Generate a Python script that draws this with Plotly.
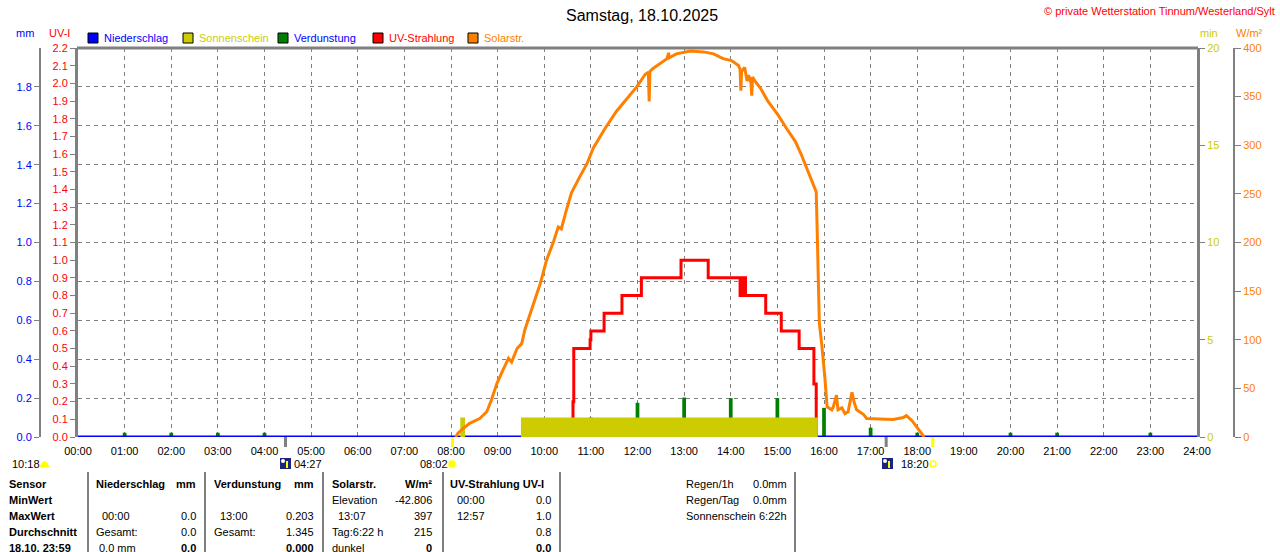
import plotly.graph_objects as go

# --- data (times as HH:MM) ---
hour_labels = ["%02d:00" % h for h in range(25)]

solar_times = ["08:06", "08:09", "08:16", "08:24", "08:37", "08:46", "08:52", "08:59", "09:07", "09:14",
               "09:18", "09:25", "09:31", "09:35", "09:42", "09:48", "09:55", "10:03", "10:12", "10:18",
               "10:22", "10:28", "10:35", "10:46", "10:55", "11:03", "11:18", "11:33", "11:46", "11:59",
               "12:10", "12:14", "12:15", "12:16", "12:20", "12:38", "12:40", "12:41", "12:50", "12:55",
               "13:08", "13:25", "13:38", "13:50", "14:01", "14:10", "14:12", "14:13", "14:14", "14:18",
               "14:19", "14:21", "14:23", "14:26", "14:27", "14:28", "14:33", "14:38", "14:48", "15:01",
               "15:12", "15:23", "15:31", "15:38", "15:46", "15:50", "15:51", "15:52", "15:53", "15:54",
               "15:57", "15:59", "16:01", "16:04", "16:06", "16:10", "16:12", "16:16", "16:18", "16:23",
               "16:27", "16:31", "16:36", "16:39", "16:42", "16:51", "16:55", "17:16", "17:29", "17:42",
               "17:46", "17:53", "17:59", "18:06", "18:09"]
solar_values = [0, 4, 9, 14, 19, 26, 38, 55, 69, 81,
                77, 91, 96, 110, 127, 141, 158, 182, 201, 216,
                214, 232, 251, 268, 281, 297, 317, 335, 347, 360,
                373, 375, 345, 376, 379, 389, 395, 390, 394, 395,
                397, 396, 394, 389, 387, 382, 378, 356, 376, 380,
                376, 366, 372, 364, 351, 370, 364, 359, 345, 331,
                317, 304, 290, 276, 261, 252, 220, 170, 141, 117,
                96, 80, 62, 31, 30, 28, 31, 43, 28, 30,
                24, 26, 46, 35, 28, 23, 19, 18, 18, 20,
                22, 17, 11, 4, 0]

uv_times = ["10:36", "10:37", "10:38", "10:59", "11:00", "11:17", "11:40", "12:05", "12:56", "13:31",
            "14:12", "14:14", "14:16", "14:17", "14:19", "14:45", "15:05", "15:28", "15:47", "15:50"]
uv_values = [0.0, 0.2, 0.5, 0.55, 0.6, 0.7, 0.8, 0.9, 1.0, 0.9,
             0.8, 0.9, 0.8, 0.9, 0.8, 0.7, 0.6, 0.5, 0.3, 0.0]

sun_times = ["00:00", "08:12", "08:18", "09:30", "15:52"]
sun_minutes = [0, 1, 0, 1, 0]

evap_times = ["01:00", "02:00", "03:00", "04:00", "10:00", "11:00", "12:00", "13:00", "14:00",
              "15:00", "16:00", "17:00", "18:00", "20:00", "21:00", "23:00"]
evap_mm = [0.022, 0.022, 0.022, 0.022, 0.05, 0.10, 0.176, 0.203, 0.2,
           0.2, 0.15, 0.048, 0.022, 0.022, 0.022, 0.022]

rain_times = hour_labels
rain_mm = [0.0] * 25

sunrise, sunset = "08:02", "18:20"
moonrise, moonset = "04:27", "17:20"

uv_ticks = [round(i * 0.1, 1) for i in range(23)]
mm_ticks = [round(i * 0.2, 1) for i in range(10)]

legend_items = [("Niederschlag", "#0000ff", "#0000ff"),
                ("Sonnenschein", "#cccc00", "#cccc00"),
                ("Verdunstung", "#008000", "#0000ff"),
                ("UV-Strahlung", "#ff0000", "#ff0000"),
                ("Solarstr.", "#ff8000", "#ff8000")]


def hrs(s):
    h, m = s.split(":")
    return int(h) + int(m) / 60


W, H = 1280, 552
FONT = "Liberation Sans, Arial, sans-serif"
GREY = "#808080"


def px(x):
    return x / W


def py(y):
    return 1 - y / H


fig = go.Figure()

fig.add_trace(go.Scatter(x=[hrs(t) for t in sun_times], y=sun_minutes, yaxis="y3",
                         mode="lines", line=dict(shape="hv", width=0, color="#cccc00"),
                         fill="tozeroy", fillcolor="#cccc00", name="Sonnenschein"))
fig.add_trace(go.Bar(x=[hrs(t) for t in evap_times], y=evap_mm, yaxis="y2", width=0.08,
                     marker=dict(color="#008000", line=dict(width=0)), name="Verdunstung"))
fig.add_trace(go.Scatter(x=[hrs(t) for t in uv_times], y=uv_values, yaxis="y",
                         mode="lines", line=dict(shape="hv", width=3, color="#ff0000"), name="UV-Strahlung"))
fig.add_trace(go.Scatter(x=[hrs(t) for t in solar_times], y=solar_values, yaxis="y4",
                         mode="lines", line=dict(width=3, color="#ff8000"), name="Solarstr."))
fig.add_trace(go.Scatter(x=[hrs(t) for t in rain_times], y=rain_mm, yaxis="y2",
                         mode="lines", line=dict(width=3, color="#0000ff"), name="Niederschlag"))

tickfont = dict(family=FONT, size=11)

fig.update_layout(
    width=W, height=H, margin=dict(l=0, r=0, t=0, b=0, autoexpand=False),
    paper_bgcolor="white", plot_bgcolor="white", showlegend=False,
    font=dict(family=FONT, size=11, color="black"),
    xaxis=dict(domain=[px(78), px(1197)], range=[0, 24], tickvals=list(range(25)), ticktext=hour_labels,
               showgrid=True, gridcolor=GREY, griddash="4px,4px", gridwidth=1, zeroline=False,
               showline=False, ticks="", tickfont=dict(tickfont, color="black"), ticklabelstandoff=6,
               automargin=False),
    yaxis=dict(domain=[py(437), py(48)], range=[0, 2.2], tickvals=uv_ticks,
               ticktext=["%.1f" % v for v in uv_ticks], tickfont=dict(tickfont, color="#ff0000"),
               showline=True, linecolor=GREY, linewidth=3, ticks="outside", ticklen=5, tickcolor=GREY,
               showgrid=False, zeroline=False, automargin=False),
    yaxis2=dict(overlaying="y", anchor="free", position=px(40), side="left", range=[0, 2.0],
                tickvals=mm_ticks, ticktext=["%.1f" % v for v in mm_ticks],
                tickfont=dict(tickfont, color="#0000ff"), showline=True, linecolor=GREY, linewidth=2,
                ticks="outside", ticklen=5, tickcolor=GREY,
                showgrid=True, gridcolor=GREY, griddash="4px,4px", gridwidth=1, zeroline=False,
                automargin=False),
    yaxis3=dict(overlaying="y", anchor="x", side="right", range=[0, 20], tickvals=[0, 5, 10, 15, 20],
                tickfont=dict(tickfont, color="#cccc00"), showline=True, linecolor=GREY, linewidth=3,
                ticks="outside", ticklen=5, tickcolor=GREY, showgrid=False, zeroline=False,
                automargin=False),
    yaxis4=dict(overlaying="y", anchor="free", position=px(1234), side="right", range=[0, 400], dtick=50,
                tickfont=dict(tickfont, color="#ff8000"), showline=True, linecolor=GREY, linewidth=2,
                ticks="outside", ticklen=6, tickcolor=GREY, showgrid=False, zeroline=False,
                automargin=False),
)

shapes = []
annotations = []


def text(x, y, s, color="black", size=11, anchor="left", bold=False):
    annotations.append(dict(x=px(x), y=py(y), xref="paper", yref="paper", text="<b>%s</b>" % s if bold else s,
                            showarrow=False, xanchor=anchor, yanchor="middle",
                            font=dict(family=FONT, size=size, color=color)))


# plot frame top border
shapes.append(dict(type="line", xref="paper", yref="paper", x0=px(77), x1=px(1198), y0=py(48), y1=py(48),
                   line=dict(color=GREY, width=3)))

# titles
text(642, 15, "Samstag, 18.10.2025", size=16, anchor="center")
text(1277, 11, "\u00a9 private Wetterstation Tinnum/Westerland/Sylt", color="#ff0000", size=11, anchor="right")
text(14, 33, "mm", color="#0000ff")
text(47, 33, "UV-I", color="#ff0000")
text(1198, 33, "min", color="#cccc00")
text(1234, 33, "W/m\u00b2", color="#ff8000")

# legend boxes
lx = 88
for label, box, col in legend_items:
    shapes.append(dict(type="rect", xref="paper", yref="paper", x0=px(lx), x1=px(lx + 10), y0=py(43), y1=py(33),
                       fillcolor=box, line=dict(color="black", width=1)))
    text(lx + 14, 38, label, color=col)
    lx += 95

# sun / moon markers below the axis
for t, col in [(sunrise, "#ffff00"), (sunset, "#ffff00"), (moonrise, GREY), (moonset, GREY)]:
    shapes.append(dict(type="line", xref="x", yref="paper", x0=hrs(t), x1=hrs(t), y0=py(437), y1=py(447),
                       line=dict(color=col, width=3)))

text(10, 464, "10:18")
shapes.append(dict(type="path", xref="paper", yref="paper",
                   path="M %f %f Q %f %f %f %f Z" % (px(40), py(467), px(44.5), py(456), px(49), py(467)),
                   fillcolor="#ffff00", line=dict(color="#ffff00", width=1)))
for x0 in (280, 882):
    shapes.append(dict(type="rect", xref="paper", yref="paper", x0=px(x0), x1=px(x0 + 11), y0=py(469), y1=py(458),
                       fillcolor="#1a237e", line=dict(width=0)))
    shapes.append(dict(type="circle", xref="paper", yref="paper", x0=px(x0 + 1), x1=px(x0 + 5), y0=py(463),
                       y1=py(459), fillcolor="white", line=dict(width=0)))
    shapes.append(dict(type="line", xref="paper", yref="paper", x0=px(x0 + 7), x1=px(x0 + 7), y0=py(468),
                       y1=py(461), line=dict(color="#ffff00", width=2)))
text(292, 464, moonrise)
text(418, 464, sunrise)
shapes.append(dict(type="circle", xref="paper", yref="paper", x0=px(448), x1=px(456), y0=py(468), y1=py(460),
                   fillcolor="#ffff00", line=dict(color="#ffff88", width=1)))
text(899, 464, sunset)
shapes.append(dict(type="circle", xref="paper", yref="paper", x0=px(930), x1=px(936), y0=py(467), y1=py(461),
                   fillcolor="white", line=dict(color="#ffff00", width=1.5)))

# table
for x in (88, 205, 323, 443, 560, 795):
    shapes.append(dict(type="line", xref="paper", yref="paper", x0=px(x), x1=px(x), y0=py(472), y1=py(552),
                       line=dict(color=GREY, width=2)))

rows_y = [484, 500, 516, 532, 548]
for y, s in zip(rows_y, ["Sensor", "MinWert", "MaxWert", "Durchschnitt", "18.10. 23:59"]):
    text(7, y, s, bold=True)

# Niederschlag
text(94, 484, "Niederschlag", bold=True)
text(198, 484, "mm", bold=True, anchor="right")
text(100, 516, "00:00")
text(198, 516, "0.0", anchor="right")
text(94, 532, "Gesamt:")
text(198, 532, "0.0", anchor="right")
text(97, 548, "0.0 mm")
text(198, 548, "0.0", anchor="right", bold=True)
# Verdunstung
text(212, 484, "Verdunstung", bold=True)
text(316, 484, "mm", bold=True, anchor="right")
text(218, 516, "13:00")
text(316, 516, "0.203", anchor="right")
text(212, 532, "Gesamt:")
text(316, 532, "1.345", anchor="right")
text(316, 548, "0.000", anchor="right", bold=True)
# Solarstr.
text(330, 484, "Solarstr.", bold=True)
text(434, 484, "W/m\u00b2", bold=True, anchor="right")
text(330, 500, "Elevation")
text(434, 500, "-42.806", anchor="right")
text(336, 516, "13:07")
text(434, 516, "397", anchor="right")
text(330, 532, "Tag:6:22 h")
text(434, 532, "215", anchor="right")
text(330, 548, "dunkel")
text(434, 548, "0", anchor="right", bold=True)
# UV
text(448, 484, "UV-Strahlung UV-I", bold=True)
text(455, 500, "00:00")
text(553, 500, "0.0", anchor="right")
text(455, 516, "12:57")
text(553, 516, "1.0", anchor="right")
text(553, 532, "0.8", anchor="right")
text(553, 548, "0.0", anchor="right", bold=True)
# summary
for y, a, b in [(484, "Regen/1h", "0.0mm"), (500, "Regen/Tag", "0.0mm"), (516, "Sonnenschein", "6:22h")]:
    text(684, y, a)
    text(789, y, b, anchor="right")

fig.update_layout(shapes=shapes, annotations=annotations)
# page margin removed so the figure sits at the window's top-left corner
fig.write_html("out.html", config={"displayModeBar": False},
               post_script="document.body.style.margin='0';")
